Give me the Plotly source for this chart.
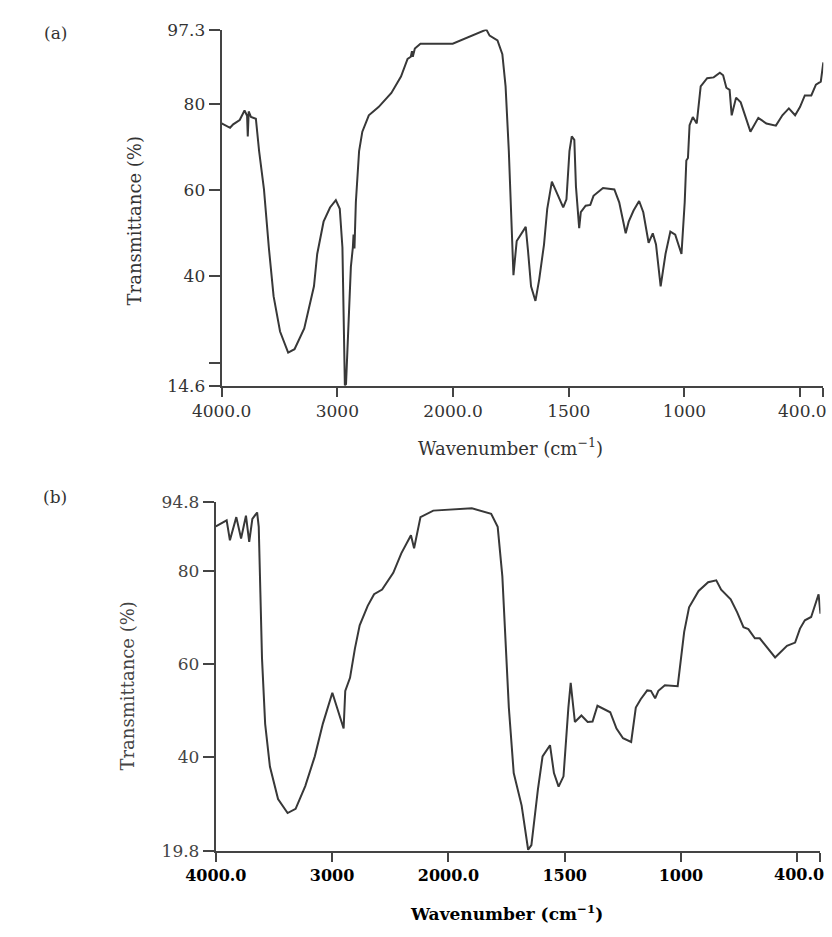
import numpy as np
import plotly.graph_objects as go

# ---------------- data (wavenumber in cm^-1, transmittance in %) ----------------
wn_a = [4000, 3927, 3900, 3844, 3802, 3780, 3774, 3766, 3746, 3704, 3676, 3634, 3592,
        3551, 3495, 3425, 3370, 3286, 3202, 3174, 3119, 3063, 3013, 2979, 2956, 2946,
        2935, 2925, 2902, 2883, 2866, 2860, 2852, 2840, 2812, 2784, 2728, 2644, 2533,
        2450, 2393, 2365, 2355, 2348, 2330, 2282, 2003, 1932, 1856, 1842, 1808, 1787,
        1773, 1759, 1750, 1739, 1725, 1718, 1700, 1686, 1676, 1663, 1644, 1628, 1607,
        1593, 1573, 1545, 1524, 1510, 1497, 1487, 1476, 1469, 1455, 1448, 1427, 1407,
        1393, 1352, 1303, 1282, 1254, 1241, 1220, 1196, 1178, 1155, 1137, 1123, 1103,
        1082, 1061, 1040, 1013, 999, 992, 985, 978, 964, 947, 930, 902, 874, 847, 833,
        819, 805, 796, 777, 757, 715, 681, 646, 605, 577, 549, 522, 501, 480, 452, 432,
        411, 400]
T_a = [75.5, 74.5, 75.3, 76.3, 78.5, 77.3, 72.5, 78.3, 77.0, 76.6, 69.1, 60.2, 46.7,
       35.4, 27.2, 22.3, 23.1, 27.9, 37.7, 45.2, 52.7, 56.0, 57.7, 55.7, 46.7, 31.7,
       14.7, 15.0, 31.7, 42.2, 46.7, 49.7, 46.5, 57.2, 69.1, 73.6, 77.4, 79.3, 82.6,
       86.4, 90.5, 91.0, 92.3, 91.0, 92.9, 94.0, 94.0, 95.5, 97.3, 95.9, 94.8, 91.6,
       84.1, 69.1, 54.2, 40.3, 48.2, 48.8, 50.4, 51.5, 45.9, 37.7, 34.3, 39.2, 47.4,
       55.7, 62.0, 58.7, 56.0, 57.9, 69.1, 72.5, 71.7, 60.9, 51.2, 54.9, 56.4, 56.6,
       58.7, 60.5, 60.2, 57.2, 50.0, 52.7, 55.3, 57.5, 54.9, 47.8, 50.0, 47.4, 37.7,
       45.2, 50.4, 49.7, 45.2, 57.2, 66.9, 67.5, 75.1, 77.0, 75.5, 84.1, 86.0, 86.2,
       87.3, 86.7, 83.8, 83.3, 77.4, 81.5, 80.4, 73.6, 76.8, 75.5, 75.0, 77.4, 79.0,
       77.4, 79.3, 82.0, 82.0, 84.5, 85.2, 89.7]

wn_b = [4000, 3907, 3879, 3824, 3783, 3741, 3713, 3686, 3645, 3631, 3617, 3603, 3576,
        3535, 3465, 3383, 3314, 3231, 3149, 3080, 2998, 2901, 2887, 2846, 2804, 2763,
        2694, 2639, 2570, 2474, 2405, 2322, 2295, 2240, 2130, 1982, 1899, 1816, 1788,
        1768, 1754, 1740, 1719, 1685, 1657, 1643, 1615, 1595, 1563, 1546, 1526, 1505,
        1484, 1474, 1456, 1428, 1401, 1380, 1359, 1332, 1304, 1277, 1249, 1214, 1194,
        1173, 1145, 1129, 1111, 1097, 1069, 1014, 1000, 986, 965, 924, 883, 848, 827,
        786, 758, 731, 710, 682, 661, 627, 595, 544, 509, 488, 467, 440, 408, 400]
T_b = [89.6, 90.9, 86.6, 91.6, 87.0, 91.9, 86.3, 91.2, 92.6, 89.5, 75.3, 61.2, 47.1,
       37.9, 30.9, 27.9, 28.8, 33.7, 40.1, 47.1, 53.8, 46.1, 54.2, 57.0, 63.3, 68.3,
       72.5, 75.0, 76.0, 79.6, 83.8, 87.7, 84.9, 91.6, 93.0, 93.3, 93.5, 92.3, 89.5,
       78.9, 64.8, 50.6, 36.5, 29.5, 20.0, 21.0, 33.0, 40.1, 42.5, 36.5, 33.6, 35.8,
       50.6, 55.9, 47.5, 48.9, 47.5, 47.6, 51.0, 50.3, 49.6, 46.1, 44.0, 43.2, 50.6,
       52.4, 54.3, 54.2, 52.6, 54.2, 55.4, 55.2, 61.2, 66.9, 72.2, 75.7, 77.6, 78.0,
       76.0, 73.9, 71.1, 67.9, 67.5, 65.5, 65.5, 63.3, 61.4, 63.9, 64.6, 67.6, 69.4,
       70.1, 75.0, 70.8]

# labelled x ticks, unlabelled x ticks, and the right-aligned end label
tick_wn = [4000, 3000, 2000, 1500, 1000]
tick_text = ["4000.0", "3000", "2000.0", "1500", "1000"]
minor_wn = [500, 400]
end_label = "400.0"

yt_a = [14.6, 40, 60, 80, 97.3]
yt_a_text = ["14.6", "40", "60", "80", "97.3"]
yt_a_minor = [20]
yt_b = [19.8, 40, 60, 80, 94.8]
yt_b_text = ["19.8", "40", "60", "80", "94.8"]


# spectrometer scale: 4000-2000 compressed, 2000-400 expanded 2x
def disp(w):
    w = np.asarray(w, float)
    return np.where(w >= 2000, 4000 - w, 2000 + 2 * (2000 - w))


W, H = 832, 937
FONT = "DejaVu Serif"
LINE = "#383838"
AX = "#444444"
XR = [0, 5200]

fig = go.Figure()
fig.add_trace(go.Scatter(x=disp(wn_a), y=T_a, mode="lines",
                         line=dict(color=LINE, width=2), xaxis="x", yaxis="y",
                         showlegend=False, hoverinfo="skip", cliponaxis=False))
fig.add_trace(go.Scatter(x=disp(wn_b), y=T_b, mode="lines",
                         line=dict(color=LINE, width=2), xaxis="x2", yaxis="y2",
                         showlegend=False, hoverinfo="skip", cliponaxis=False))

common = dict(showgrid=False, zeroline=False, showline=True, linecolor=AX, linewidth=2,
              ticks="outside", tickwidth=1.5, tickcolor=AX, tickmode="array")


def xminor():
    return dict(tickmode="array", tickvals=disp(minor_wn), ticks="outside", ticklen=9,
                tickwidth=1.5, tickcolor=AX, showgrid=False)


fig.update_layout(
    width=W, height=H,
    margin=dict(l=0, r=0, t=0, b=0),
    paper_bgcolor="white", plot_bgcolor="white",
    xaxis=dict(domain=[198 / W, 823 / W], range=XR, anchor="y", ticklen=9,
               tickvals=disp(tick_wn), ticktext=tick_text, minor=xminor(),
               tickfont=dict(family=FONT, size=17, color="#333"), **common),
    yaxis=dict(domain=[1 - 384 / H, 1 - 20 / H], range=[14.6, 97.3], anchor="x", ticklen=11,
               tickvals=yt_a, ticktext=yt_a_text,
               minor=dict(tickmode="array", tickvals=yt_a_minor, ticks="outside", ticklen=11,
                          tickwidth=1.5, tickcolor=AX, showgrid=False),
               tickfont=dict(family=FONT, size=17, color="#333"), **common),
    xaxis2=dict(domain=[192 / W, 820 / W], range=XR, anchor="y2", ticklen=9,
                tickvals=disp(tick_wn), ticktext=tick_text, minor=xminor(),
                tickfont=dict(family=FONT, size=16, color="#000", weight="bold"), **common),
    yaxis2=dict(domain=[1 - 859 / H, 1 - 503 / H], range=[19.8, 94.8], anchor="x2", ticklen=11,
                tickvals=yt_b, ticktext=yt_b_text,
                tickfont=dict(family=FONT, size=17, color="#444"), **common),
)


def ann(text, px, py, size=18, angle=0, color="#333", weight="normal", xanchor="center"):
    fig.add_annotation(text=text, x=px / W, y=1 - py / H, xref="paper", yref="paper",
                       showarrow=False, textangle=angle, xanchor=xanchor, yanchor="middle",
                       font=dict(family=FONT, size=size, color=color, weight=weight))


ann("(a)", 25, 24, size=17)
ann("(b)", 25, 498, size=17)
ann("Transmittance (%)", 107, 216, size=18, angle=-90)
ann("Transmittance (%)", 100, 691, size=18, angle=-90, color="#444")
ann("Wavenumber (cm<sup>−1</sup>)", 498, 447, size=18)
ann("Wavenumber (cm<sup>−1</sup>)", 494, 923, size=17, color="#000", weight="bold")
ann(end_label, 829, 410, size=17, xanchor="right")
ann(end_label, 826, 883, size=16, color="#000", weight="bold", xanchor="right")

fig.write_html("out.html", config={"displayModeBar": False},
               post_script="document.body.style.margin='0';")
